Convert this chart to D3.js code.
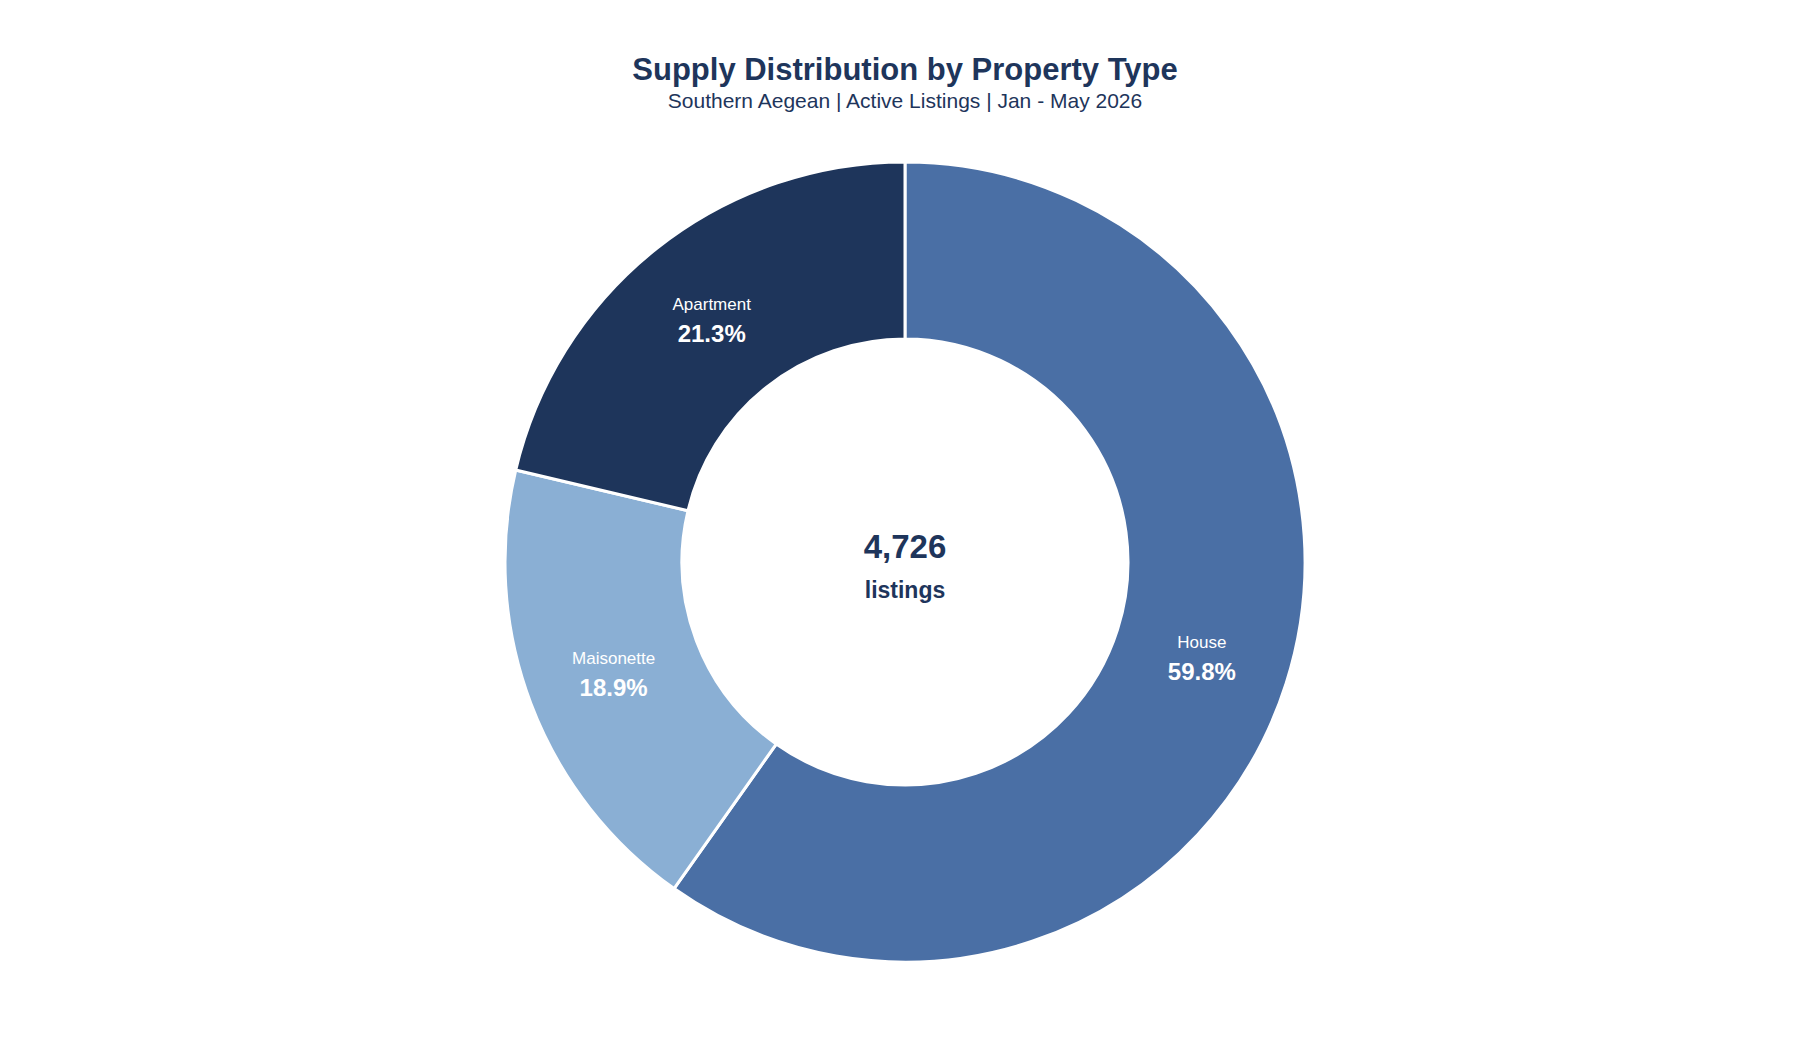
<!DOCTYPE html>
<html>
<head>
<meta charset="utf-8">
<script src="https://cdn.jsdelivr.net/npm/d3@7"></script>
<style>
  body { margin: 0; background: #fff; font-family: "Liberation Sans", Arial, sans-serif; }
</style>
</head>
<body>
<svg id="chart" width="1800" height="1040"></svg>
<script>
var categories = ["House", "Maisonette", "Apartment"];
var counts = [2826, 893, 1007];
var colors = ["#4a6fa5", "#8aafd4", "#1e355b"];
var total = 4726;

var svg = d3.select("#chart");
var cx = 905, cy = 562, outer = 400, inner = 223;
var navy = "#1e355b";

svg.append("text").attr("x", cx).attr("y", 80)
  .attr("text-anchor", "middle").attr("font-size", "31px").attr("font-weight", "bold")
  .attr("fill", navy).text("Supply Distribution by Property Type");
svg.append("text").attr("x", cx).attr("y", 108)
  .attr("text-anchor", "middle").attr("font-size", "21px")
  .attr("fill", navy).text("Southern Aegean | Active Listings | Jan - May 2026");

var data = categories.map(function(c, i) { return {name: c, value: counts[i], color: colors[i]}; });
var pie = d3.pie().sort(null).value(function(d) { return d.value; });
var arc = d3.arc().innerRadius(inner).outerRadius(outer);
var g = svg.append("g").attr("transform", "translate(" + cx + "," + cy + ")");

var arcs = pie(data);
g.selectAll("path").data(arcs).enter().append("path")
  .attr("d", arc)
  .attr("fill", function(d) { return d.data.color; })
  .attr("stroke", "#fff").attr("stroke-width", 3);

var lab = g.selectAll("g.lab").data(arcs).enter().append("g")
  .attr("transform", function(d) { return "translate(" + arc.centroid(d) + ")"; });
lab.append("text").attr("text-anchor", "middle").attr("y", -8)
  .attr("font-size", "17px").attr("fill", "#fff")
  .text(function(d) { return d.data.name; });
lab.append("text").attr("text-anchor", "middle").attr("y", 24)
  .attr("font-size", "24px").attr("font-weight", "bold").attr("fill", "#fff")
  .text(function(d) { return (d.data.value / total * 100).toFixed(1) + "%"; });

g.append("text").attr("text-anchor", "middle").attr("y", -4)
  .attr("font-size", "33px").attr("font-weight", "bold").attr("fill", navy)
  .text(d3.format(",")(total));
g.append("text").attr("text-anchor", "middle").attr("y", 36)
  .attr("font-size", "23px").attr("font-weight", "bold").attr("fill", navy)
  .text("listings");
</script>
</body>
</html>
